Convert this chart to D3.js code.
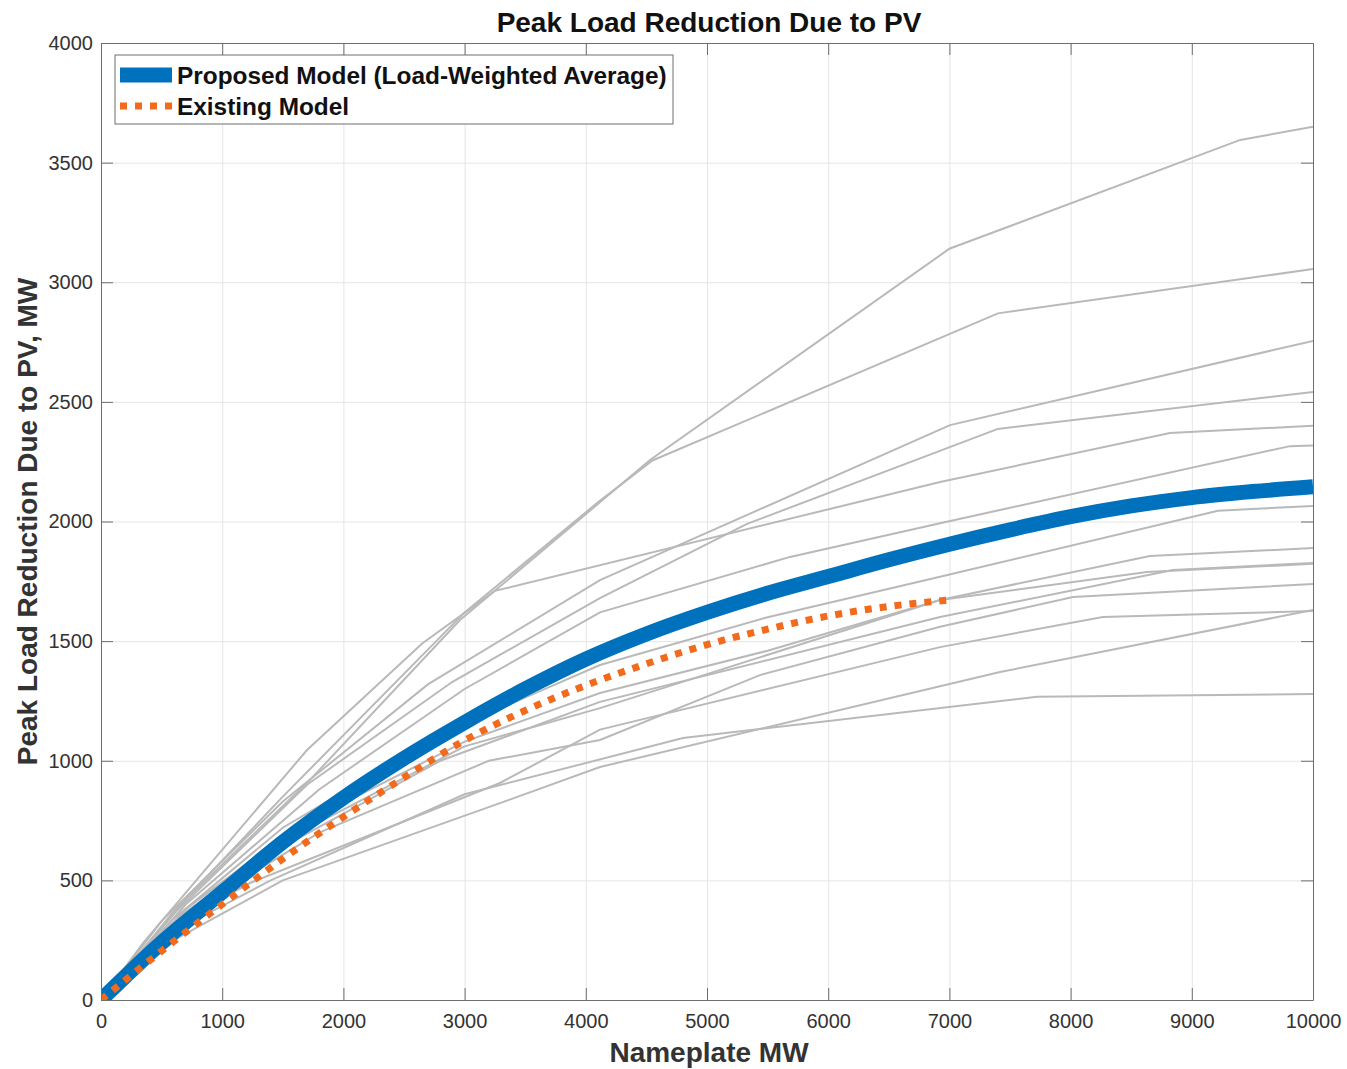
<!DOCTYPE html>
<html>
<head>
<meta charset="utf-8">
<script src="https://cdn.jsdelivr.net/npm/d3@7"></script>
<style>
  body { margin: 0; background: #fff; }
  text { font-family: "Liberation Sans", Arial, sans-serif; }
</style>
</head>
<body>
<div id="viz"></div>
<script>
(function() {

    var width = 1347;
    var height = 1069;
    var margin = {top: 43, right: 34, bottom: 69, left: 101};

    // tick values
    var xTicks = [0, 1000, 2000, 3000, 4000, 5000, 6000, 7000, 8000, 9000, 10000];
    var yTicks = [0, 500, 1000, 1500, 2000, 2500, 3000, 3500, 4000];

    // Proposed model (load-weighted average)
    var proposedX = [0, 500, 1000, 1500, 2000, 2500, 3000, 3500, 4000, 4500, 5000, 5500, 6000, 6500, 7000, 7500, 8000, 8500, 9000, 9500, 10000];
    var proposedY = [0, 240, 450, 660, 845, 1010, 1160, 1300, 1425, 1530, 1620, 1700, 1770, 1840, 1905, 1965, 2020, 2065, 2100, 2125, 2145];

    // Existing model
    var existingX = [0, 500, 1000, 1500, 2000, 2500, 3000, 3500, 4000, 4500, 5000, 5500, 6000, 6500, 7000];
    var existingY = [0, 205, 400, 590, 765, 930, 1085, 1210, 1315, 1405, 1485, 1550, 1605, 1645, 1672];

    // individual curves (grey), [nameplate MW, reduction MW]
    var individual = [
        [[0,0],[700,420],[1724,920],[2962,1588],[4530,2257],[7000,3140],[9400,3595],[10000,3650]],
        [[0,0],[600,370],[1500,850],[3000,1620],[4100,2080],[4550,2255],[7400,2870],[10000,3055]],
        [[0,0],[500,330],[1500,830],[2700,1320],[4117,1755],[7005,2403],[10000,2755]],
        [[0,0],[600,360],[1700,900],[2900,1330],[4117,1680],[5330,1990],[7400,2387],[10000,2541]],
        [[0,0],[350,240],[1700,1045],[2650,1490],[3250,1710],[6923,2165],[8820,2370],[10000,2400]],
        [[0,0],[700,400],[1800,880],[3000,1300],[4117,1620],[5685,1852],[6923,1993],[9810,2315],[10000,2318]],
        [[0,0],[600,340],[1500,720],[2800,1110],[4117,1400],[5500,1600],[6923,1769],[9216,2045],[10000,2065]],
        [[0,0],[700,380],[1600,720],[3000,1080],[4117,1283],[5500,1460],[6923,1672],[8655,1856],[10000,1889]],
        [[0,0],[650,350],[1500,640],[2800,1000],[4117,1246],[6923,1601],[8845,1797],[10000,1827]],
        [[0,0],[650,350],[1600,690],[3000,1060],[4117,1220],[6923,1672],[8630,1789],[10000,1823]],
        [[0,0],[700,360],[1800,700],[3200,1000],[4117,1087],[5437,1358],[6923,1560],[8020,1684],[10000,1739]],
        [[0,0],[650,330],[1229,489],[3292,907],[4117,1130],[6923,1475],[8267,1601],[10000,1626]],
        [[0,0],[650,300],[1400,500],[3000,860],[4802,1095],[7723,1267],[10000,1279]],
        [[0,0],[650,264],[1500,500],[3292,823],[4117,974],[7418,1371],[10000,1630]]
    ];

    var proposed = proposedX.map(function(x, i) { return [x, proposedY[i]]; });
    var existing = existingX.map(function(x, i) { return [x, existingY[i]]; });

    var svg = d3.select("#viz")
        .append("svg")
        .attr("width", width)
        .attr("height", height);

    var iw = width - margin.left - margin.right;
    var ih = height - margin.top - margin.bottom;

    var g = svg.append("g")
        .attr("transform", "translate(" + margin.left + "," + margin.top + ")");

    var x = d3.scaleLinear().domain([0, 10000]).range([0, iw]);
    var y = d3.scaleLinear().domain([0, 4000]).range([ih, 0]);

    //Grid lines
    g.append("g")
        .attr("transform", "translate(0," + ih + ")")
        .call(d3.axisBottom(x).tickValues(xTicks).tickSize(-ih).tickFormat(""))
        .call(function(s) {
            s.select(".domain").remove();
            s.selectAll("line").attr("stroke", "#e5e5e5");
        });
    g.append("g")
        .call(d3.axisLeft(y).tickValues(yTicks).tickSize(-iw).tickFormat(""))
        .call(function(s) {
            s.select(".domain").remove();
            s.selectAll("line").attr("stroke", "#e5e5e5");
        });

    g.append("clipPath").attr("id", "clip")
        .append("rect").attr("width", iw).attr("height", ih);

    var plot = g.append("g").attr("clip-path", "url(#clip)");

    var line = d3.line()
        .x(function(d) { return x(d[0]); })
        .y(function(d) { return y(d[1]); });

    var smooth = d3.line()
        .curve(d3.curveMonotoneX)
        .x(function(d) { return x(d[0]); })
        .y(function(d) { return y(d[1]); });

    //Grey individual curves
    plot.selectAll(".indiv")
        .data(individual)
        .enter().append("path")
        .attr("class", "indiv")
        .attr("d", line)
        .attr("fill", "none")
        .attr("stroke", "#b9b9b9")
        .attr("stroke-width", 2);

    //Proposed model
    plot.append("path")
        .attr("d", smooth(proposed))
        .attr("fill", "none")
        .attr("stroke", "#0072bd")
        .attr("stroke-width", 15);

    //Existing model
    plot.append("path")
        .attr("d", smooth(existing))
        .attr("fill", "none")
        .attr("stroke", "#f26b1d")
        .attr("stroke-width", 7)
        .attr("stroke-dasharray", "7,8");

    //Axes with ticks inside, box all round
    var axisColor = "#6e6e6e";
    function styleAxis(s) {
        s.select(".domain").attr("stroke", axisColor);
        s.selectAll(".tick line").attr("stroke", axisColor);
        s.selectAll("text")
            .attr("fill", "#333")
            .style("font-size", "20px")
            .style("font-family", "'Liberation Sans', Arial, sans-serif");
    }

    g.append("g")
        .attr("transform", "translate(0," + ih + ")")
        .call(d3.axisBottom(x).tickValues(xTicks).tickSizeInner(-12).tickSizeOuter(0).tickPadding(14).tickFormat(d3.format("d")))
        .call(styleAxis);
    g.append("g")
        .call(d3.axisTop(x).tickValues(xTicks).tickSizeInner(-12).tickSizeOuter(0).tickFormat(""))
        .call(styleAxis);
    g.append("g")
        .call(d3.axisLeft(y).tickValues(yTicks).tickSizeInner(-12).tickSizeOuter(0).tickPadding(8).tickFormat(d3.format("d")))
        .call(styleAxis);
    g.append("g")
        .attr("transform", "translate(" + iw + ",0)")
        .call(d3.axisRight(y).tickValues(yTicks).tickSizeInner(-12).tickSizeOuter(0).tickFormat(""))
        .call(styleAxis);

    //Title and labels
    svg.append("text")
        .attr("x", margin.left + iw / 2 + 2)
        .attr("y", 32)
        .attr("text-anchor", "middle")
        .attr("font-weight", "bold")
        .attr("font-size", "28px")
        .attr("fill", "#111")
        .text("Peak Load Reduction Due to PV");

    svg.append("text")
        .attr("x", margin.left + iw / 2 + 2)
        .attr("y", 1062)
        .attr("text-anchor", "middle")
        .attr("font-weight", "bold")
        .attr("font-size", "28px")
        .attr("fill", "#333")
        .text("Nameplate MW");

    svg.append("text")
        .attr("transform", "translate(37," + (margin.top + ih / 2) + ") rotate(-90)")
        .attr("text-anchor", "middle")
        .attr("font-weight", "bold")
        .attr("font-size", "28px")
        .attr("fill", "#333")
        .text("Peak Load Reduction Due to PV, MW");

    //Legend
    var legend = svg.append("g").attr("transform", "translate(115,55)");
    legend.append("rect")
        .attr("width", 558)
        .attr("height", 69)
        .attr("fill", "#fff")
        .attr("stroke", axisColor)
        .attr("stroke-width", 1);

    legend.append("line")
        .attr("x1", 5).attr("x2", 57)
        .attr("y1", 20).attr("y2", 20)
        .attr("stroke", "#0072bd")
        .attr("stroke-width", 15);
    legend.append("line")
        .attr("x1", 5).attr("x2", 57)
        .attr("y1", 51).attr("y2", 51)
        .attr("stroke", "#f26b1d")
        .attr("stroke-width", 7)
        .attr("stroke-dasharray", "7,8");

    legend.append("text")
        .attr("x", 62).attr("y", 29)
        .attr("font-weight", "bold")
        .attr("font-size", "24.4px")
        .attr("fill", "#111")
        .text("Proposed Model (Load-Weighted Average)");
    legend.append("text")
        .attr("x", 62).attr("y", 60)
        .attr("font-weight", "bold")
        .attr("font-size", "24.4px")
        .attr("fill", "#111")
        .text("Existing Model");

})();
</script>
</body>
</html>
